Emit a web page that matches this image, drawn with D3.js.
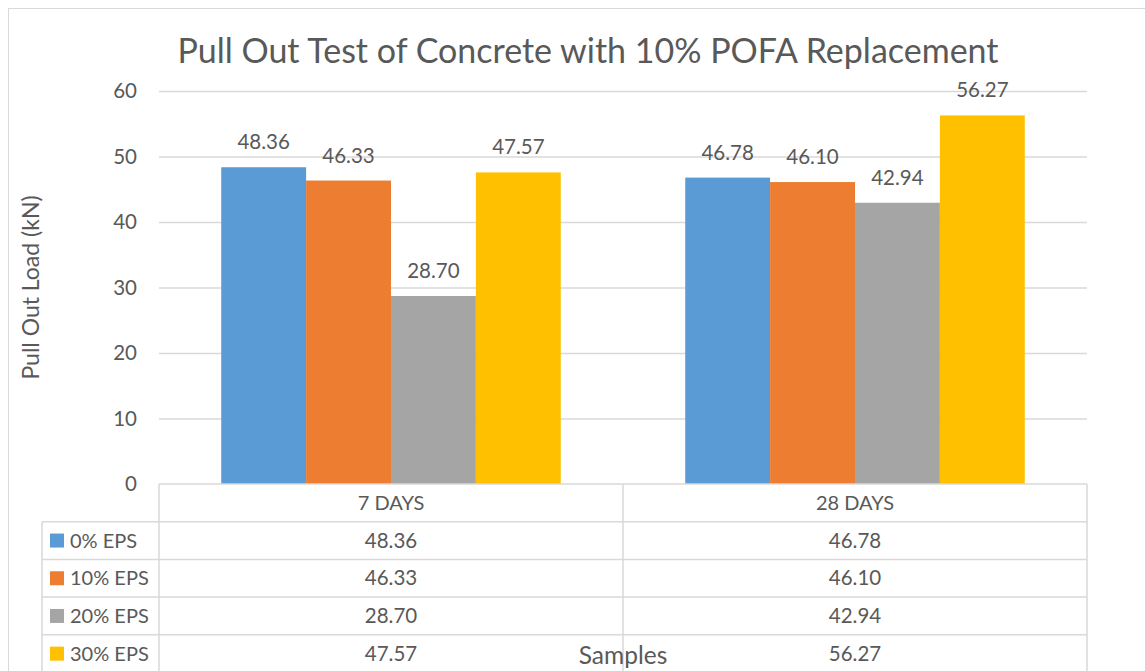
<!DOCTYPE html>
<html>
<head>
<meta charset="utf-8">
<script src="https://cdn.jsdelivr.net/npm/d3@7"></script>
<style>
  body { margin: 0; background: #fff; }
  svg { display: block; font-family: Lato, "Open Sans", sans-serif; }
</style>
</head>
<body>
<svg id="chart"></svg>
<script>
const categories = ['7 DAYS', '28 DAYS']
const seriesNames = ['0% EPS', '10% EPS', '20% EPS', '30% EPS']
const seriesColors = ['#5B9BD5', '#ED7D31', '#A5A5A5', '#FFC000']
const values = [
    [48.36, 46.78],
    [46.33, 46.10],
    [28.70, 42.94],
    [47.57, 56.27]
]
const yTicks = [0, 10, 20, 30, 40, 50, 60]

const W = 1145, H = 671
const plot = { left: 159, right: 1087, top: 91, bottom: 484 }
const rowH = 37.7
const textColor = '#595959'
const lineColor = '#d9d9d9'

const svg = d3.select('#chart').attr('width', W).attr('height', H)

// chart frame (runs off the picture on right and bottom)
svg.append('rect')
    .attr('x', 8.5).attr('y', 8.5)
    .attr('width', W + 20).attr('height', H + 20)
    .attr('fill', '#fff').attr('stroke', lineColor)

svg.append('text')
    .attr('x', 588).attr('y', 63)
    .attr('text-anchor', 'middle')
    .attr('font-size', 34)
    .attr('fill', textColor)
    .text('Pull Out Test of Concrete with 10% POFA Replacement')

const x0 = d3.scaleBand()
    .domain(categories)
    .range([plot.left, plot.right])
    .paddingInner(0).paddingOuter(0)

const x1 = d3.scaleBand()
    .domain(seriesNames)
    .range([0, x0.bandwidth()])
    .paddingOuter(0.733)

const y = d3.scaleLinear()
    .domain([0, 60])
    .range([plot.bottom, plot.top])

// gridlines
svg.append('g')
    .selectAll('line').data(yTicks.filter(t => t > 0)).enter().append('line')
    .attr('x1', plot.left).attr('x2', plot.right)
    .attr('y1', d => y(d) + 0.5).attr('y2', d => y(d) + 0.5)
    .attr('stroke', lineColor).attr('stroke-width', 1.5)

// y axis labels
const yAxis = svg.append('g')
    .attr('transform', `translate(${plot.left},0)`)
    .call(d3.axisLeft(y).tickValues(yTicks).tickSize(0).tickPadding(22))
yAxis.select('.domain').remove()
yAxis.selectAll('text')
    .attr('font-size', 20.5).attr('fill', textColor)
    .attr('font-family', 'Lato, "Open Sans", sans-serif')

svg.append('text')
    .attr('transform', `translate(39,${(plot.top + plot.bottom) / 2}) rotate(-90)`)
    .attr('text-anchor', 'middle')
    .attr('font-size', 23)
    .attr('fill', textColor)
    .text('Pull Out Load (kN)')

// bars
const groups = svg.append('g')
    .selectAll('g').data(categories).enter().append('g')
    .attr('transform', d => `translate(${x0(d)},0)`)

groups.selectAll('rect')
    .data((c, ci) => seriesNames.map((s, si) => ({ s, si, v: values[si][ci] })))
    .enter().append('rect')
    .attr('x', d => x1(d.s))
    .attr('width', x1.bandwidth())
    .attr('y', d => y(d.v))
    .attr('height', d => y(0) - y(d.v))
    .attr('fill', d => seriesColors[d.si])

groups.selectAll('text.lbl')
    .data((c, ci) => seriesNames.map((s, si) => ({ s, si, v: values[si][ci] })))
    .enter().append('text')
    .attr('class', 'lbl')
    .attr('x', d => x1(d.s) + x1.bandwidth() / 2)
    .attr('y', d => y(d.v) - 18)
    .attr('text-anchor', 'middle')
    .attr('font-size', 20.5)
    .attr('fill', textColor)
    .text(d => d.v.toFixed(2))

// data table
const table = svg.append('g')
const tTop = plot.bottom
const tBottom = H + 20
const line = (x1_, y1_, x2_, y2_) => table.append('line')
    .attr('x1', x1_).attr('y1', y1_).attr('x2', x2_).attr('y2', y2_)
    .attr('stroke', lineColor).attr('stroke-width', 1.5)

line(plot.left, tTop, plot.right, tTop)
for (let i = 1; i <= seriesNames.length; i++) {
    line(42, tTop + rowH * i, plot.right, tTop + rowH * i)
}
line(42, tTop + rowH, 42, tBottom)
categories.forEach(c => line(x0(c), tTop, x0(c), tBottom))
line(plot.right, tTop, plot.right, tBottom)

table.selectAll('text.cat').data(categories).enter().append('text')
    .attr('x', d => x0(d) + x0.bandwidth() / 2)
    .attr('y', tTop + rowH / 2)
    .attr('dy', '0.35em')
    .attr('text-anchor', 'middle')
    .attr('font-size', 20).attr('fill', textColor)
    .text(d => d)

seriesNames.forEach((s, si) => {
    const cy = tTop + rowH * (si + 1.5)
    table.append('rect')
        .attr('x', 50).attr('y', cy - 7)
        .attr('width', 14).attr('height', 14)
        .attr('fill', seriesColors[si])
    table.append('text')
        .attr('x', 70).attr('y', cy).attr('dy', '0.35em')
        .attr('font-size', 20).attr('fill', textColor)
        .text(s)
    categories.forEach((c, ci) => {
        table.append('text')
            .attr('x', x0(c) + x0.bandwidth() / 2)
            .attr('y', cy).attr('dy', '0.35em')
            .attr('text-anchor', 'middle')
            .attr('font-size', 20.5).attr('fill', textColor)
            .text(values[si][ci].toFixed(2))
    })
})

svg.append('text')
    .attr('x', 623).attr('y', 664)
    .attr('text-anchor', 'middle')
    .attr('font-size', 24.5)
    .attr('fill', textColor)
    .text('Samples')
</script>
</body>
</html>
